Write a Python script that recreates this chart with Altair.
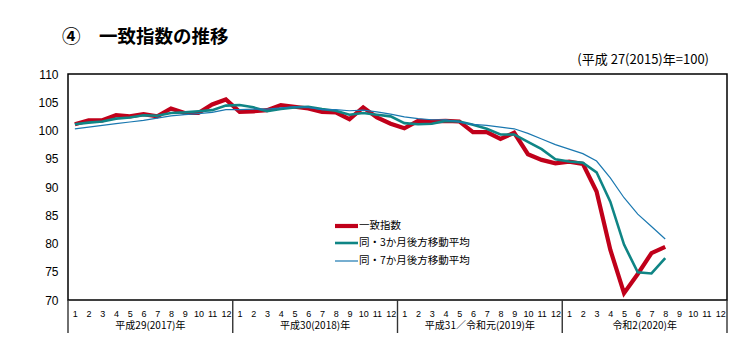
import altair as alt
import pandas as pd

# ---- data ----
months = list(range(48))  # Jan 2017 .. Dec 2020 (index)
coincident = [101.1, 101.8, 101.8, 102.7, 102.5, 102.9, 102.5, 103.9, 103.1, 103.1, 104.6, 105.5,
              103.3, 103.4, 103.6, 104.5, 104.2, 103.9, 103.3, 103.2, 102.0, 104.1, 102.3, 101.2,
              100.4, 101.7, 101.6, 101.7, 101.6, 99.7, 99.7, 98.5, 99.6, 95.8, 94.8, 94.2,
              94.5, 94.1, 89.2, 78.9, 71.2, 74.6, 78.3, 79.4]
ma3 = [101.1, 101.4, 101.6, 102.1, 102.3, 102.7, 102.6, 103.1, 103.2, 103.4, 103.6, 104.4,
       104.5, 104.1, 103.4, 103.8, 104.1, 104.2, 103.8, 103.5, 102.8, 103.1, 102.8, 102.5,
       101.3, 101.1, 101.2, 101.7, 101.6, 101.0, 100.3, 99.3, 99.3, 98.0, 96.7, 94.9,
       94.5, 94.3, 92.6, 87.4, 79.8, 74.9, 74.7, 77.4]
ma7 = [100.3, 100.6, 100.9, 101.2, 101.5, 101.8, 102.2, 102.6, 102.8, 103.0, 103.2, 103.7,
       103.7, 103.8, 103.8, 104.0, 104.2, 104.1, 103.7, 103.7, 103.5, 103.6, 103.3, 102.9,
       102.4, 102.1, 101.9, 101.9, 101.5, 101.1, 100.9, 100.6, 100.3, 99.5, 98.5, 97.5,
       96.7, 95.9, 94.6, 91.6, 88.1, 85.2, 83.0, 80.8]
series_names = ["一致指数", "同・3か月後方移動平均", "同・7か月後方移動平均"]
year_labels = ["平成29(2017)年", "平成30(2018)年", "平成31／令和元(2019)年", "令和2(2020)年"]
year_mid = [5.5, 17.5, 29.5, 41.5]
year_bounds = [-0.5, 11.5, 23.5, 35.5, 47.5]
y_ticks = [70, 75, 80, 85, 90, 95, 100, 105, 110]
title_text = "④　一致指数の推移"
subtitle_text = "(平成 27(2015)年=100)"

colors = ["#C0001A", "#0F8585", "#1A78B0"]
widths = [4.2, 2.6, 1.2]

W, H = 659, 226
FONT = "Noto Sans CJK JP"
NUMFONT = "Liberation Sans"

xscale = alt.Scale(domain=[-0.5, 47.5], nice=False, zero=False)
yscale = alt.Scale(domain=[70, 110], nice=False, zero=False)
xaxis = alt.Axis(values=months, labelExpr="(datum.value % 12) + 1",
                 ticks=False, domain=False, grid=False, title=None,
                 labelFontSize=9, labelFont=NUMFONT, labelColor="black",
                 labelPadding=9, labelFlush=False, labelOverlap=False)
yaxis = alt.Axis(values=y_ticks, ticks=False, domain=False, grid=False,
                 title=None, labelFontSize=12, labelFont=NUMFONT,
                 labelColor="black", labelPadding=10, labelOverlap=False)
X = lambda f: alt.X(f, scale=xscale, axis=xaxis)
Y = lambda f: alt.Y(f, scale=yscale, axis=yaxis)


def line_layer(vals, color, width):
    df = pd.DataFrame({"m": months[:len(vals)], "v": vals})
    return alt.Chart(df).mark_line(color=color, strokeWidth=width,
                                   strokeJoin="miter", strokeCap="butt").encode(
        x=X("m:Q"), y=Y("v:Q"))


layers = [
    line_layer(coincident, colors[0], widths[0]),
    line_layer(ma3, colors[1], widths[1]),
    line_layer(ma7, colors[2], widths[2]),
]

# year separators below the axis
sep_df = pd.DataFrame({"m": year_bounds})
seps = alt.Chart(sep_df).mark_rule(color="#333333", strokeWidth=1.4).encode(
    x=X("m:Q"), y=alt.value(H), y2=alt.value(H + 33))

# year labels
yl_df = pd.DataFrame({"m": year_mid, "t": year_labels})
ylab = alt.Chart(yl_df).mark_text(font=FONT, fontSize=10, color="black",
                                  baseline="middle").encode(
    x=X("m:Q"), y=alt.value(H + 26), text="t:N")

# legend (manual)
leg_y = [152, 169, 187]
leg = []
for name, c, w, yy in zip(series_names, colors, widths, leg_y):
    leg.append(alt.Chart(pd.DataFrame({"t": [name]})).mark_rule(color=c, strokeWidth=w).encode(
        x=alt.value(267), x2=alt.value(290), y=alt.value(yy)))
    leg.append(alt.Chart(pd.DataFrame({"t": [name]})).mark_text(
        font=FONT, fontSize=10.5, align="left", baseline="middle", color="black").encode(
        x=alt.value(291), y=alt.value(yy), text="t:N"))

title = alt.Chart(pd.DataFrame({"t": [title_text]})).mark_text(
    font=FONT, fontSize=18.5, fontWeight="bold", align="left", baseline="middle",
    color="black").encode(x=alt.value(-6), y=alt.value(-37), text="t:N")
subtitle = alt.Chart(pd.DataFrame({"t": [subtitle_text]})).mark_text(
    font=FONT, fontSize=13, align="right", baseline="middle",
    color="black").encode(x=alt.value(641), y=alt.value(-14), text="t:N")

chart = alt.layer(*layers, seps, ylab, *leg, title, subtitle).properties(
    width=W, height=H,
    autosize=alt.AutoSizeParams(type="none"),
    padding={"left": 60, "top": 66, "right": 16, "bottom": 40},
    background="white",
).configure_view(stroke="black", strokeWidth=1.5).configure_axis(labelOverlap=False)

chart.save("out.html", embed_options={"renderer": "svg", "actions": False})
